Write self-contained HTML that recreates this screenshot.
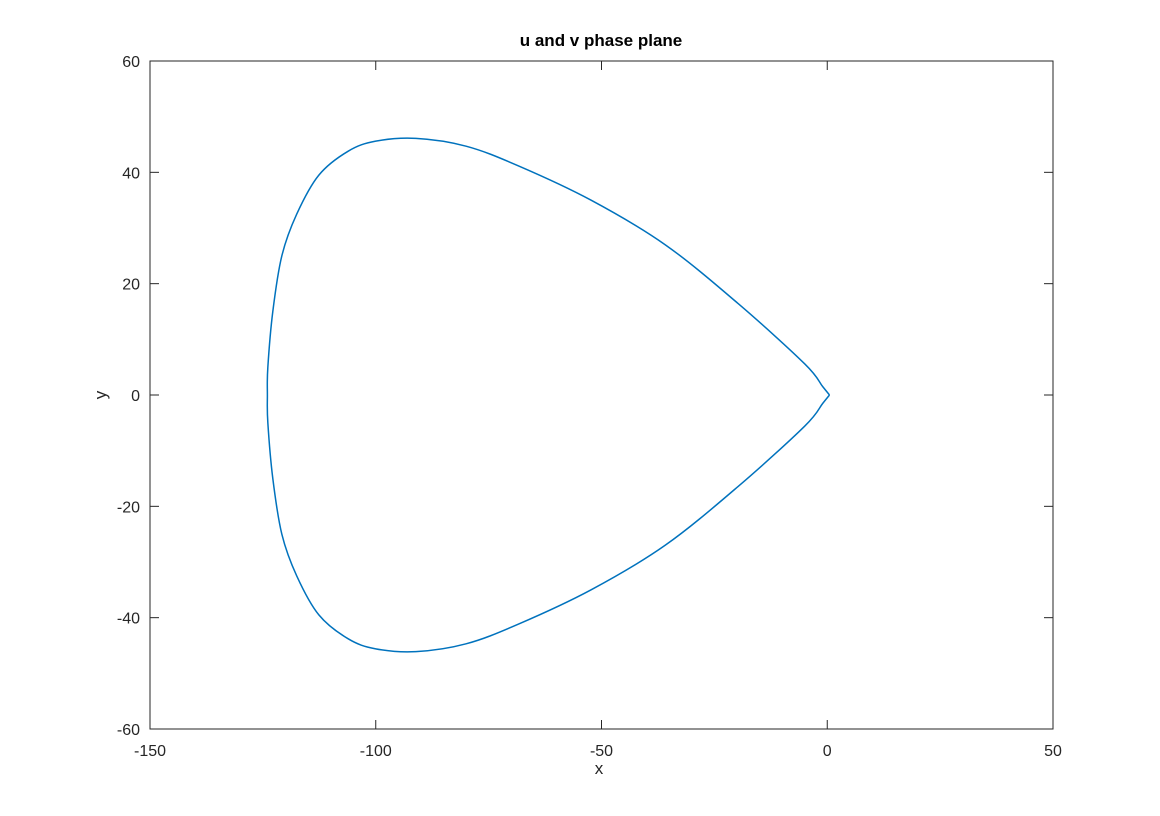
<!DOCTYPE html>
<html><head><meta charset="utf-8"><style>
body{margin:0;background:#fff;}
svg{display:block;font-family:"Liberation Sans",sans-serif;}
</style></head><body>
<svg id="chart" width="1160" height="816">
<rect x="0" y="0" width="1160" height="816" fill="#fff"/>
<text x="601" y="46" text-anchor="middle" font-size="17" font-weight="bold" fill="#000">u and v phase plane</text>
<text x="599" y="774" text-anchor="middle" font-size="17" fill="#262626">x</text>
<text x="106" y="395" text-anchor="middle" font-size="17" fill="#262626" transform="rotate(-90 106 395)">y</text>
<g id="axes"></g>
<path id="curve" fill="none" stroke="#0072BD" stroke-width="1.5"/>
<rect x="150" y="61" width="903" height="668" fill="none" stroke="#262626" stroke-width="1"/>
</svg>
<script>
const xTicks=[-150,-100,-50,0,50];
const yTicks=[-60,-40,-20,0,20,40,60];
const curveX=[0.5,-1,-5,-19.7,-35.9,-52.3,-68.5,-80,-91.1,-100,-106.1,-112.6,-117.5,-120.8,-122.8,-123.9,-124,-123.9,-122.8,-120.8,-117.5,-112.6,-106.1,-100,-91.1,-80,-68.5,-52.3,-35.9,-19.7,-5,-1,0.5];
const curveY=[0,1.5,5.6,16.4,27.0,35.0,41.2,44.7,46.1,45.6,43.8,39.5,32.5,25.0,15,5,0,-5,-15,-25.0,-32.5,-39.5,-43.8,-45.6,-46.1,-44.7,-41.2,-35.0,-27.0,-16.4,-5.6,-1.5,0];
const X=v=>150+(v+150)*903/200;
const Y=v=>395-v*668/120;
const g=document.getElementById('axes');
const NS='http://www.w3.org/2000/svg';
xTicks.forEach(t=>{
  for(const [y1,y2] of [[729,720],[61,70]]){
    const l=document.createElementNS(NS,'line');
    l.setAttribute('x1',X(t));l.setAttribute('x2',X(t));l.setAttribute('y1',y1);l.setAttribute('y2',y2);
    l.setAttribute('stroke','#262626');
    
    
    g.appendChild(l);
  }
  const s=document.createElementNS(NS,'text');
  s.setAttribute('x',X(t));s.setAttribute('y',756);s.setAttribute('text-anchor','middle');
  s.setAttribute('font-size','16');s.setAttribute('fill','#262626');s.textContent=t;
  
  
  g.appendChild(s);
});
yTicks.forEach(t=>{
  for(const [x1,x2] of [[150,159],[1053,1044]]){
    const l=document.createElementNS(NS,'line');
    l.setAttribute('x1',x1);l.setAttribute('x2',x2);l.setAttribute('y1',Y(t));l.setAttribute('y2',Y(t));
    l.setAttribute('stroke','#262626');
    
    
    g.appendChild(l);
  }
  const s=document.createElementNS(NS,'text');
  s.setAttribute('x',140);s.setAttribute('y',Y(t)+6);s.setAttribute('text-anchor','end');
  s.setAttribute('font-size','16');s.setAttribute('fill','#262626');s.textContent=t;
  
  
  g.appendChild(s);
});
const pts=curveX.map((x,i)=>[X(x),Y(curveY[i])]);
let d='M'+pts[0][0]+','+pts[0][1];
for(let i=0;i<pts.length-1;i++){
  const p0=pts[Math.max(i-1,0)],p1=pts[i],p2=pts[i+1],p3=pts[Math.min(i+2,pts.length-1)];
  const c1=[p1[0]+(p2[0]-p0[0])/6,p1[1]+(p2[1]-p0[1])/6];
  const c2=[p2[0]-(p3[0]-p1[0])/6,p2[1]-(p3[1]-p1[1])/6];
  d+=' C'+c1+' '+c2+' '+p2;
}
document.getElementById('curve').setAttribute('d',d);
</script>
</body></html>
